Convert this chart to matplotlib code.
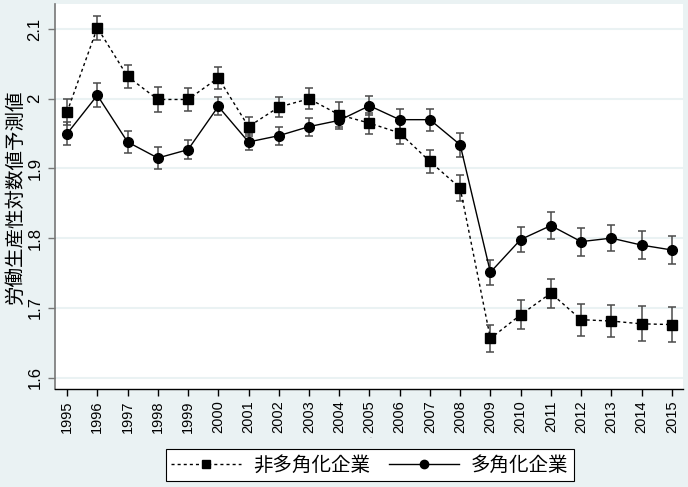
import numpy as np
import matplotlib
matplotlib.use('Agg')
import matplotlib.pyplot as plt

years = list(range(1995, 2016))
non_div = [1.981, 2.102, 2.032, 1.999, 1.999, 2.030, 1.960, 1.988, 2.000, 1.977, 1.965,
           1.951, 1.910, 1.872, 1.656, 1.690, 1.721, 1.683, 1.681, 1.677, 1.676]
non_div_err = [0.018, 0.017, 0.016, 0.018, 0.017, 0.016, 0.014, 0.014, 0.015, 0.018, 0.015,
               0.016, 0.017, 0.019, 0.020, 0.021, 0.021, 0.023, 0.023, 0.025, 0.025]
div = [1.950, 2.005, 1.938, 1.915, 1.927, 1.989, 1.938, 1.947, 1.960, 1.969, 1.990,
       1.970, 1.970, 1.934, 1.751, 1.798, 1.818, 1.795, 1.800, 1.790, 1.783]
div_err = [0.017, 0.017, 0.016, 0.016, 0.014, 0.013, 0.012, 0.013, 0.013, 0.013, 0.014,
           0.015, 0.016, 0.017, 0.018, 0.018, 0.019, 0.020, 0.019, 0.020, 0.020]
yticks = [1.6, 1.7, 1.8, 1.9, 2.0, 2.1]
ytick_labels = ['1.6', '1.7', '1.8', '1.9', '2', '2.1']
ylabel = '労働生産性対数値予測値'
names = ['非多角化企業', '多角化企業']

bg = '#EAF2F3'
jp = ['Noto Sans CJK JP', 'DejaVu Sans']
plt.rcParams['font.family'] = ['Liberation Sans', 'DejaVu Sans']

fig = plt.figure(figsize=(6.88, 4.87), dpi=100, facecolor=bg)
ax = fig.add_axes([55/688, 1-389/487, 628/688, 385/487])
ax.set_facecolor('white')

for v in yticks:
    ax.axhline(v, color=bg, lw=1.5, zorder=0)

ax.errorbar(years, non_div, yerr=non_div_err, fmt='none', ecolor='#4a4a4a',
            elinewidth=1.1, capsize=3, capthick=1.1, zorder=2)
ax.errorbar(years, div, yerr=div_err, fmt='none', ecolor='#4a4a4a',
            elinewidth=1.1, capsize=3, capthick=1.1, zorder=2)
ax.plot(years, non_div, color='black', lw=1.0, ls=(0, (2.2, 2.2)),
        marker='s', ms=7, label=names[0], zorder=3)
ax.plot(years, div, color='black', lw=1.0, ls='-',
        marker='o', ms=7, label=names[1], zorder=3)

ax.set_xlim(1994.6, 2015.37)
ax.set_ylim(1.5835, 2.136)
ax.set_xticks(years)
ax.set_xticklabels([str(y) for y in years], rotation=90, fontsize=10.5)
ax.set_yticks(yticks)
ax.set_yticklabels(ytick_labels, rotation=90, va='center', fontsize=12)
ax.tick_params(axis='x', length=5, width=1, color='black', pad=3)
ax.tick_params(axis='y', length=5, width=1, color='#777777', pad=4)

for s in ['top', 'right']:
    ax.spines[s].set_visible(False)
ax.spines['left'].set_color('#777777')
ax.spines['left'].set_linewidth(1.2)
ax.spines['bottom'].set_color('black')
ax.spines['bottom'].set_linewidth(1.0)

fig.text(15/688, 1-197/487, ylabel, rotation=90, ha='center', va='center',
         fontsize=14, family=jp)
fig.text(370/688, 1-436/487, '.', ha='center', va='center', fontsize=5, color='#888888')

leg = fig.legend(loc='center', bbox_to_anchor=(370/688, 1-465/487), ncol=2,
                 prop={'family': jp, 'size': 14}, frameon=True, fancybox=False,
                 edgecolor='black', framealpha=1, handlelength=3.6,
                 handletextpad=0.6, columnspacing=1.0, borderpad=0.3)
leg.get_frame().set_linewidth(0.8)
for h in leg.legend_handles:
    h.set_markersize(6)

fig.savefig('out.png', dpi=100, facecolor=bg)
